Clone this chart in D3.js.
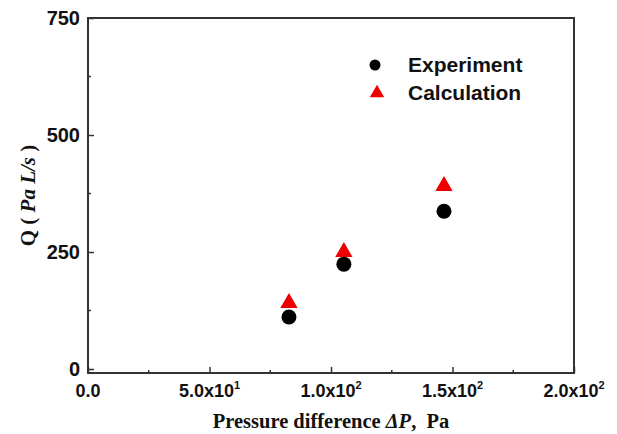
<!DOCTYPE html>
<html>
<head>
<meta charset="utf-8">
<script src="https://cdn.jsdelivr.net/npm/d3@7"></script>
<style>
  body { margin: 0; background: #fff; }
  svg { display: block; }
</style>
</head>
<body>
<div id="chart"></div>
<script>
// data
var pressure = [82.7, 105.3, 146.5];
var experiment = [111, 224, 337];
var calculation = [141, 250, 391];
var xTicks = [0, 50, 100, 150, 200];
var xTickBase = ["0.0", "5.0x10", "1.0x10", "1.5x10", "2.0x10"];
var xTickExp = ["", "1", "2", "2", "2"];
var xMinor = [25, 75, 125, 175];
var yTicks = [0, 250, 500, 750];
var yMinor = [125, 375, 625];

var W = 617, H = 434;
var margin = {left: 88, right: 574, top: 18, bottom: 373};

var x = d3.scaleLinear().domain([0, 200]).range([margin.left, margin.right]);
var y = d3.scaleLinear().domain([0, 750]).range([369, 18]);

var svg = d3.select("#chart").append("svg")
    .attr("width", W)
    .attr("height", H);

// frame
svg.append("rect")
    .attr("x", margin.left).attr("y", margin.top)
    .attr("width", margin.right - margin.left).attr("height", margin.bottom - margin.top)
    .attr("fill", "none").attr("stroke", "#333").attr("stroke-width", 2);

// y axis (ticks inside)
var yAxis = svg.append("g")
    .attr("transform", "translate(" + margin.left + ",0)")
    .call(d3.axisLeft(y).tickValues(yTicks).tickSize(-6).tickPadding(8).tickFormat(d3.format("d")));
yAxis.select(".domain").remove();
yAxis.selectAll("line").attr("stroke", "#333").attr("stroke-width", 1.5);
yAxis.selectAll("text")
    .attr("fill", "#111")
    .style("font-family", "Liberation Sans, Arial, sans-serif")
    .style("font-weight", "bold")
    .style("font-size", "20px");

svg.append("g").selectAll("line")
    .data(yMinor).enter().append("line")
    .attr("x1", margin.left).attr("x2", margin.left + 3)
    .attr("y1", function(d) { return y(d); })
    .attr("y2", function(d) { return y(d); })
    .attr("stroke", "#333").attr("stroke-width", 1.5);

// x axis (ticks inside)
var xAxis = svg.append("g")
    .attr("transform", "translate(0," + margin.bottom + ")")
    .call(d3.axisBottom(x).tickValues(xTicks).tickSize(-6).tickFormat(""));
xAxis.select(".domain").remove();
xAxis.selectAll("line").attr("stroke", "#333").attr("stroke-width", 1.5);

svg.append("g").selectAll("line")
    .data(xMinor).enter().append("line")
    .attr("x1", function(d) { return x(d); })
    .attr("x2", function(d) { return x(d); })
    .attr("y1", margin.bottom).attr("y2", margin.bottom - 3)
    .attr("stroke", "#333").attr("stroke-width", 1.5);

var xl = svg.append("g").selectAll("text")
    .data(xTicks).enter().append("text")
    .attr("x", function(d) { return x(d); })
    .attr("y", 397)
    .attr("text-anchor", "middle")
    .attr("fill", "#111")
    .style("font-family", "Liberation Sans, Arial, sans-serif")
    .style("font-weight", "bold")
    .style("font-size", "18px");
xl.append("tspan").text(function(d, i) { return xTickBase[i]; });
xl.append("tspan")
    .attr("dy", -8)
    .style("font-size", "11px")
    .text(function(d, i) { return xTickExp[i]; });

// axis titles
var xt = svg.append("text")
    .attr("x", (margin.left + margin.right) / 2)
    .attr("y", 428)
    .attr("text-anchor", "middle")
    .attr("fill", "#111")
    .style("font-family", "Liberation Serif, Times New Roman, serif")
    .style("font-weight", "bold")
    .style("font-size", "20.5px");
xt.append("tspan").text("Pressure difference ");
xt.append("tspan").style("font-style", "italic").text("\u0394P");
xt.append("tspan").attr("xml:space", "preserve").text(",  Pa");

var yt = svg.append("text")
    .attr("transform", "translate(35," + (margin.top + margin.bottom) / 2 + ") rotate(-90)")
    .attr("text-anchor", "middle")
    .attr("fill", "#111")
    .style("font-family", "Liberation Serif, Times New Roman, serif")
    .style("font-weight", "bold")
    .style("font-size", "21px");
yt.append("tspan").text("Q ( ");
yt.append("tspan").style("font-style", "italic").text("Pa L/s");
yt.append("tspan").text(" )");

// markers
var tri = d3.symbol().type(d3.symbolTriangle);

svg.append("g").selectAll("path")
    .data(pressure).enter().append("path")
    .attr("d", tri.size(130)())
    .attr("transform", function(d, i) { return "translate(" + x(d) + "," + y(calculation[i]) + ")"; })
    .attr("fill", "#ee0000");

svg.append("g").selectAll("circle")
    .data(pressure).enter().append("circle")
    .attr("cx", function(d) { return x(d); })
    .attr("cy", function(d, i) { return y(experiment[i]); })
    .attr("r", 7.5)
    .attr("fill", "#000");

// legend
var legend = svg.append("g");
legend.append("circle").attr("cx", 375).attr("cy", 65).attr("r", 5.5).attr("fill", "#000");
legend.append("path")
    .attr("d", tri.size(90)())
    .attr("transform", "translate(377,93)")
    .attr("fill", "#ee0000");
legend.selectAll("text")
    .data(["Experiment", "Calculation"]).enter().append("text")
    .attr("x", 408)
    .attr("y", function(d, i) { return 72 + i * 28; })
    .attr("fill", "#111")
    .style("font-family", "Liberation Sans, Arial, sans-serif")
    .style("font-weight", "bold")
    .style("font-size", "21px")
    .text(function(d) { return d; });
</script>
</body>
</html>
